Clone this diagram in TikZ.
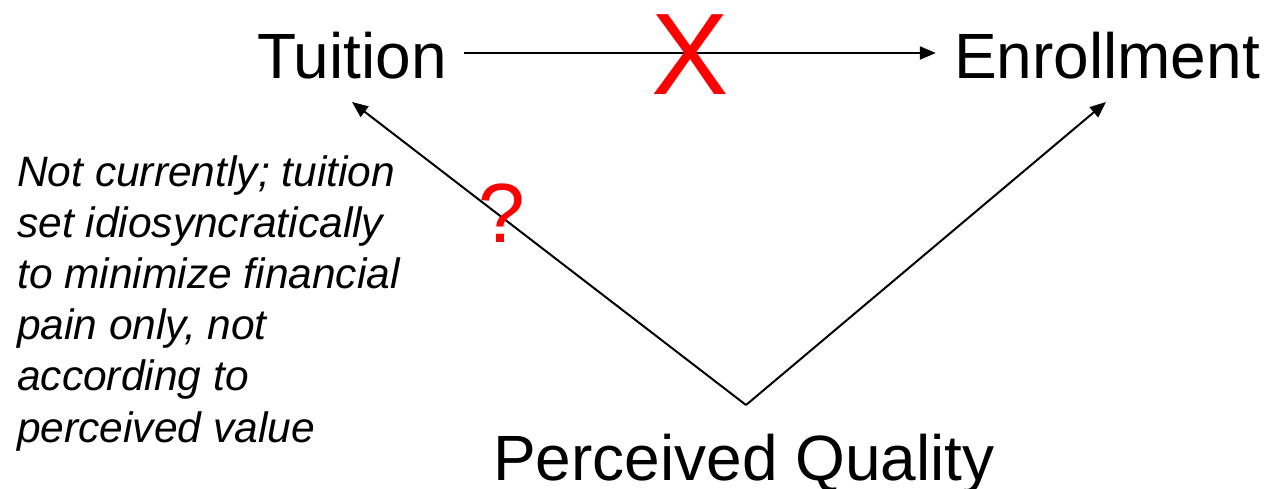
\documentclass[tikz,border=0pt]{standalone}
\usepackage{fontspec}
\setmainfont{Liberation Sans}
\usetikzlibrary{arrows.meta}
\tikzset{
  big/.style={inner sep=0pt, font=\fontsize{64}{70}\selectfont},
  note/.style={inner sep=0pt, align=left, font=\fontsize{42.5}{51.2}\selectfont\itshape},
  redmark/.style={inner sep=0pt, text=red},
  conn/.style={line width=2pt, -{Triangle[length=16pt,width=13pt]}}
}
\begin{document}
\begin{tikzpicture}[x=1pt,y=-1pt]
\useasboundingbox (0,0) rectangle (1264,488);
\node[big, anchor=base] (Tui) at (352,78) {Tuition};
\node[big, anchor=base] (Enr) at (1107,78) {Enrollment};
\node[big, anchor=base] (PQ) at (744,480) {Perceived Quality};
\node[note, anchor=north west] (nt) at (17,155) {Not currently; tuition\\set idiosyncratically\\to minimize financial\\pain only, not\\according to\\perceived value};
\coordinate (v) at ([xshift=2pt,yshift=75pt]PQ.base);
\draw[conn] ([xshift=17pt,yshift=25pt]Tui.base east) -- ([xshift=-18pt,yshift=25pt]Enr.base west);
\draw[conn] (v) -- ([yshift=-24pt]Tui.base);
\draw[conn] (v) -- ([xshift=-1pt,yshift=-24pt]Enr.base);
\node[redmark, font=\fontsize{116}{116}\selectfont] (x) at (690,55) {X};
\node[redmark, font=\fontsize{84}{84}\selectfont, anchor=base] (q) at (502,242) {?};
\end{tikzpicture}
\end{document}
